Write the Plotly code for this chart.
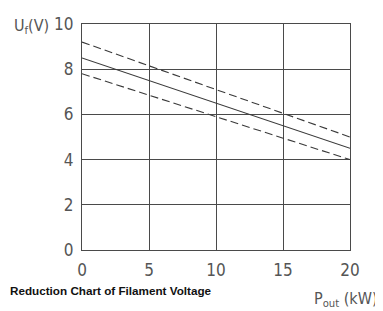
import plotly.graph_objects as go

x_vals = [0, 20]
solid_y = [8.5, 4.5]
upper_dash_y = [9.2, 5.0]
lower_dash_y = [7.8, 4.0]

x_ticks = [0, 5, 10, 15, 20]
y_ticks = [0, 2, 4, 6, 8, 10]

line_col = "#3a3a3a"
grid_col = "#4a4a4a"
narrow = "Liberation Sans Narrow, DejaVu Sans Condensed, Arial"
tick_font = dict(family=narrow, size=17, color="#555555")

fig = go.Figure()
fig.add_trace(go.Scatter(x=x_vals, y=upper_dash_y, mode="lines",
                         line=dict(color=line_col, width=1.1, dash="8px,4px")))
fig.add_trace(go.Scatter(x=x_vals, y=solid_y, mode="lines",
                         line=dict(color=line_col, width=1.1)))
fig.add_trace(go.Scatter(x=x_vals, y=lower_dash_y, mode="lines",
                         line=dict(color=line_col, width=1.1, dash="8px,4px")))

fig.update_layout(
    width=375, height=303,
    margin=dict(l=74, r=33, t=16, b=61),
    paper_bgcolor="white", plot_bgcolor="white",
    showlegend=False,
    xaxis=dict(range=[0, 20], tickvals=x_ticks, showgrid=True, gridcolor=grid_col, gridwidth=1.2,
               showline=True, linecolor=grid_col, linewidth=1.2, mirror=True, zeroline=False,
               ticks="", tickfont=tick_font, ticklabelstandoff=4, fixedrange=True, automargin=False),
    yaxis=dict(range=[0, 10], tickvals=y_ticks, showgrid=True, gridcolor=grid_col, gridwidth=1.2,
               showline=True, linecolor=grid_col, linewidth=1.2, mirror=True, zeroline=False,
               ticks="", tickfont=tick_font, ticklabelstandoff=4, fixedrange=True, automargin=False),
    annotations=[
        dict(text="U<sub>f</sub>(V)", xref="paper", yref="paper", x=-0.19, y=0.99,
             xanchor="center", yanchor="middle", showarrow=False,
             font=dict(family=narrow, size=16, color="#555555")),
        dict(text="P<sub>out</sub> (kW)", xref="paper", yref="paper", x=1.112, y=-0.221,
             xanchor="right", yanchor="middle", showarrow=False,
             font=dict(family=narrow, size=16, color="#555555")),
        dict(text="<b>Reduction Chart of Filament Voltage</b>", xref="paper", yref="paper",
             x=-0.275, y=-0.18, xanchor="left", yanchor="middle", showarrow=False,
             font=dict(family="Liberation Sans, Arial", size=11.7, color="#111111")),
    ],
)

fig.write_html("out.html")
